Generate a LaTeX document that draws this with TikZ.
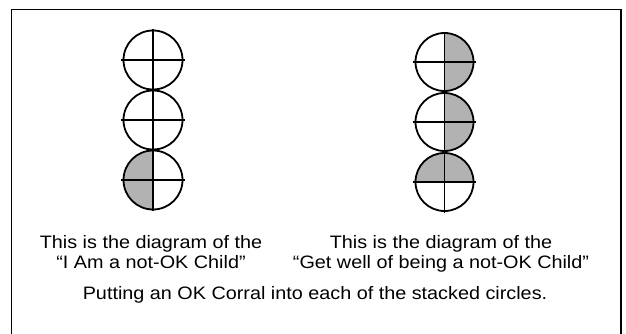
\documentclass[tikz,border=0pt]{standalone}
\usepackage{fontspec}
\setmainfont{Liberation Sans}[FakeStretch=1.1]
\begin{document}
\begin{tikzpicture}[x=1pt,y=-1pt,
  ring/.style={circle,draw,line width=1.8pt,minimum size=58pt,inner sep=0pt},
  bar/.style={line width=1.8pt},
  shade/.style={fill=black!30},
  caption/.style={font=\fontsize{18}{20}\selectfont,align=center,inner sep=0pt}]
\useasboundingbox (0,0) rectangle (626,334);
% frame
\draw[line width=1.8pt] (11.5,340) -- (11.5,9.5) -- (621,9.5) -- (621,340);
% left stack shading: bottom circle, left half
\begin{scope}
  \clip (100,140) rectangle (153,220);
  \fill[shade] (153,180) circle[radius=29.5];
\end{scope}
\node[ring,minimum size=59pt] (la) at (153,60) {};
\node[ring,minimum size=59pt] (lb) at (153,120) {};
\node[ring,minimum size=59pt] (lc) at (153,180) {};
\coordinate (ltop) at (153,29);
\coordinate (lbot) at (153,211);
\draw[bar] (ltop) -- (lbot);
\foreach \n in {la,lb,lc}{
  \draw[bar] ([xshift=-2pt]\n.west) -- ([xshift=2pt]\n.east);
}
% right stack shading
\begin{scope}
  \clip (444.5,20) rectangle (490,152);
  \fill[shade] (444.5,62) circle[radius=29];
  \fill[shade] (444.5,122) circle[radius=29];
\end{scope}
\begin{scope}
  \clip (400,140) rectangle (490,182);
  \fill[shade] (444.5,182) circle[radius=29];
\end{scope}
\node[ring] (ra) at (444.5,62) {};
\node[ring] (rb) at (444.5,122) {};
\node[ring] (rc) at (444.5,182) {};
\coordinate (rtop) at (444.5,32);
\coordinate (rbot) at (444.5,213);
\draw[bar] (rtop) -- (rbot);
\foreach \n in {ra,rb,rc}{
  \draw[bar] ([xshift=-2pt]\n.west) -- ([xshift=2pt]\n.east);
}
% captions
\node[caption,anchor=base] (t1) at (151,248) {This is the diagram of the};
\node[caption,anchor=base] (t2) at (151,268) {“I Am a not-OK Child”};
\node[caption,anchor=base] (t3) at (441,248) {This is the diagram of the};
\node[caption,anchor=base] (t4) at (441,268) {“Get well of being a not-OK Child”};
\node[caption,anchor=base] (t5) at (315,299) {Putting an OK Corral into each of the stacked circles.};
\end{tikzpicture}
\end{document}
